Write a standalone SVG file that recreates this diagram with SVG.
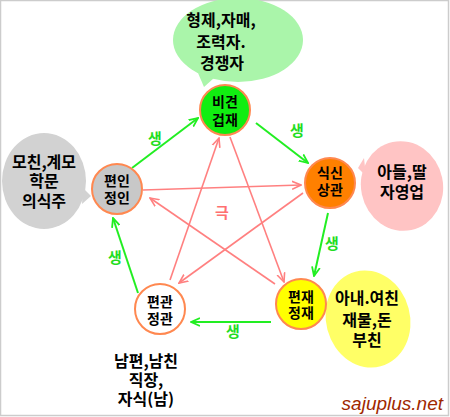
<svg xmlns="http://www.w3.org/2000/svg" width="450" height="417" viewBox="0 0 450 417">
<style>
.t{font-family:"Noto Sans CJK KR","Noto Sans",sans-serif;font-weight:bold;text-anchor:middle;fill:#000}
.b{font-size:16px}
.n{font-size:14px}
.g{stroke:#22ee22;stroke-width:2;fill:none}
.p{stroke:#ff8080;stroke-width:1.6;fill:none}
.gl{font-family:"Noto Sans CJK KR","Noto Sans",sans-serif;font-weight:bold;font-size:15px;fill:#22dd22;text-anchor:middle}
.nc{stroke:#ff8850;stroke-width:2}
</style>
<defs>
<marker id="ag" viewBox="0 0 10 10" refX="9" refY="5" markerWidth="10" markerHeight="10" markerUnits="userSpaceOnUse" orient="auto">
<path d="M0,1 L9,5 L0,9" fill="none" stroke="#22ee22" stroke-width="1.8"/>
</marker>
<marker id="ap" viewBox="0 0 10 10" refX="9" refY="5" markerWidth="10" markerHeight="10" markerUnits="userSpaceOnUse" orient="auto">
<path d="M0,1 L9,5 L0,9" fill="none" stroke="#ff8080" stroke-width="1.6"/>
</marker>
</defs>
<rect x="0" y="0" width="450" height="417" fill="#fff"/>
<rect x="0.5" y="0.5" width="448" height="415" fill="none" stroke="#cccccc" stroke-width="1.5"/>

<g id="bubble-top">
<ellipse cx="238" cy="40" rx="65" ry="42" fill="#aaf5aa"/>
<polygon points="198,73 204,87 214,78" fill="#aaf5aa"/>
<text class="t b" x="221" y="26">형제,자매,</text>
<text class="t b" x="221" y="48">조력자.</text>
<text class="t b" x="222" y="69">경쟁자</text>
</g>
<g id="bubble-right">
<ellipse cx="402" cy="186" rx="41" ry="45" fill="#ffc4c4" transform="rotate(-12 402 186)"/>
<polygon points="364,158 358,168 366,176" fill="#ffc4c4"/>
<text class="t b" x="402" y="178">아들,딸</text>
<text class="t b" x="402" y="198">자영업</text>
</g>
<g id="bubble-left">
<ellipse cx="44" cy="181" rx="42" ry="48" fill="#d2d2d2"/>
<polygon points="83,188 91,196 82,204" fill="#d2d2d2"/>
<text class="t b" x="44" y="168">모친,계모</text>
<text class="t b" x="44" y="187">학문</text>
<text class="t b" x="44" y="207">의식주</text>
</g>
<g id="bubble-bottomright">
<ellipse cx="368" cy="319" rx="42" ry="49" fill="#ffff66" transform="rotate(-15 368 319)"/>
<polygon points="330,299 323,307 331,313" fill="#ffff66"/>
<text class="t b" x="367" y="304">아내.여친</text>
<text class="t b" x="367" y="326">재물,돈</text>
<text class="t b" x="367" y="346">부친</text>
</g>
<g id="label-bottom">
<text class="t b" x="146" y="367">남편,남친</text>
<text class="t b" x="146" y="386">직장,</text>
<text class="t b" x="146" y="405">자식(남)</text>
</g>

<g id="connectors">
<line class="g" x1="132" y1="168" x2="198" y2="118" marker-end="url(#ag)"/>
<line class="g" x1="256" y1="123" x2="308" y2="163" marker-end="url(#ag)"/>
<line class="g" x1="328" y1="213" x2="314" y2="276" marker-end="url(#ag)"/>
<line class="g" x1="271" y1="322" x2="191" y2="322" marker-end="url(#ag)"/>
<line class="g" x1="138" y1="293" x2="113" y2="218" marker-end="url(#ag)"/>
<line class="p" x1="230" y1="137" x2="284" y2="282" marker-end="url(#ap)"/>
<line class="p" x1="170" y1="280" x2="219" y2="138" marker-end="url(#ap)"/>
<line class="p" x1="143" y1="190" x2="301" y2="185" marker-end="url(#ap)"/>
<line class="p" x1="303" y1="193" x2="179" y2="283" marker-end="url(#ap)"/>
<line class="p" x1="275" y1="284" x2="150" y2="198" marker-end="url(#ap)"/>
<text class="gl" x="155" y="144">생</text>
<text class="gl" x="297" y="136">생</text>
<text class="gl" x="332" y="249">생</text>
<text class="gl" x="233" y="337">생</text>
<text class="gl" x="115" y="263">생</text>
<text x="222" y="218" style="font-family:'Noto Sans CJK KR',sans-serif;font-weight:bold;font-size:15px;fill:#ff7070;text-anchor:middle">극</text>
</g>

<g id="node-bigyeon">
<circle class="nc" cx="225" cy="110" r="25" fill="#11ee11"/>
<text class="t n" x="225" y="107">비견</text>
<text class="t n" x="225" y="125">겁재</text>
</g>
<g id="node-siksin">
<circle class="nc" cx="330" cy="183" r="25" fill="#ff8000" stroke="#ffa060"/>
<text class="t n" x="330" y="178">식신</text>
<text class="t n" x="330" y="195">상관</text>
</g>
<g id="node-pyeonin">
<circle class="nc" cx="117" cy="189" r="25" fill="#c8c8c8"/>
<text class="t n" x="117" y="186">편인</text>
<text class="t n" x="117" y="203">정인</text>
</g>
<g id="node-pyeongwan">
<circle class="nc" cx="160" cy="309" r="25" fill="#ffffff"/>
<text class="t n" x="160" y="307">편관</text>
<text class="t n" x="160" y="324">정관</text>
</g>
<g id="node-pyeonjae">
<circle class="nc" cx="301" cy="304" r="25" fill="#ffff00"/>
<text class="t n" x="301" y="302">편재</text>
<text class="t n" x="301" y="318">정재</text>
</g>
<text x="443" y="410" style="font-family:'Liberation Sans',sans-serif;font-style:italic;font-size:19px;fill:#a02800;text-anchor:end">sajuplus.net</text>
</svg>
